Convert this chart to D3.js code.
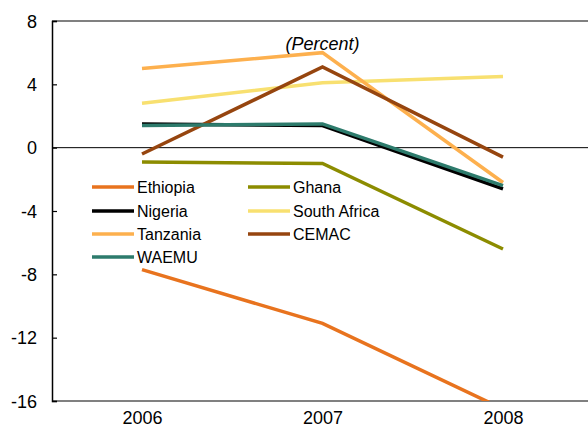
<!DOCTYPE html>
<html>
<head>
<meta charset="utf-8">
<script src="https://cdn.jsdelivr.net/npm/d3@7"></script>
<style>
  html, body { margin: 0; padding: 0; background: #fff; }
  svg { display: block; font-family: "Liberation Sans", Arial, sans-serif; }
</style>
</head>
<body>
<svg id="chart" width="588" height="428"></svg>
<script>
// Real GDP growth series, percent
const years = ["2006", "2007", "2008"];
const yTicks = [-16, -12, -8, -4, 0, 4, 8];

const ethiopia    = [-7.7, -11.1, -16.5];
const ghana       = [-0.9, -1.0, -6.4];
const nigeria     = [1.5, 1.4, -2.6];
const southAfrica = [2.8, 4.1, 4.5];
const tanzania    = [5.0, 6.0, -2.2];
const cemac       = [-0.4, 5.1, -0.6];
const waemu       = [1.4, 1.5, -2.4];

const seriesNames  = ["Ethiopia", "Ghana", "Nigeria", "South Africa", "Tanzania", "CEMAC", "WAEMU"];
const seriesValues = [ethiopia, ghana, nigeria, southAfrica, tanzania, cemac, waemu];
const seriesColors = ["#E8731E", "#8C8C00", "#000000", "#F8E070", "#FDB04E", "#96450F", "#2D7B6C"];

const svg = d3.select("#chart");
const plotLeft = 52, plotRight = 600, plotTop = 21, plotBottom = 401;

const x = d3.scalePoint().domain(years).range([142, 503]);
const y = d3.scaleLinear().domain([-16, 8]).range([plotBottom, plotTop]);

svg.append("defs").append("clipPath").attr("id", "plot")
  .append("rect").attr("x", plotLeft).attr("y", plotTop)
  .attr("width", plotRight - plotLeft).attr("height", plotBottom - plotTop);

// frame: grey top and bottom edges
svg.append("line").attr("x1", plotLeft).attr("x2", plotRight).attr("y1", plotTop).attr("y2", plotTop)
  .attr("stroke", "#808080").attr("stroke-width", 2);
svg.append("line").attr("x1", plotLeft).attr("x2", plotRight).attr("y1", plotBottom).attr("y2", plotBottom)
  .attr("stroke", "#808080").attr("stroke-width", 2);

// zero line
svg.append("line").attr("x1", plotLeft).attr("x2", plotRight).attr("y1", y(0)).attr("y2", y(0))
  .attr("stroke", "#000").attr("stroke-width", 1);

// y axis with inward ticks, plain hyphen for negatives
const yAxis = svg.append("g").attr("transform", `translate(${plotLeft},0)`)
  .call(d3.axisRight(y).tickValues(yTicks).tickSize(5).tickFormat(d => String(d)));
yAxis.select(".domain").attr("stroke", "#000").attr("stroke-width", 1.5);
yAxis.selectAll(".tick line").attr("stroke", "#000").attr("stroke-width", 1.2);
yAxis.selectAll(".tick text")
  .attr("x", -15).attr("text-anchor", "end").attr("dy", "0.35em")
  .attr("font-size", 18).attr("fill", "#000")
  .attr("font-family", "Liberation Sans, Arial, sans-serif");

// x axis labels
const xAxis = svg.append("g").attr("transform", `translate(0,${plotBottom})`)
  .call(d3.axisBottom(x).tickSize(0).tickPadding(10));
xAxis.select(".domain").remove();
xAxis.selectAll(".tick text")
  .attr("font-size", 18).attr("fill", "#000")
  .attr("font-family", "Liberation Sans, Arial, sans-serif");

// series lines
const line = d3.line().x((d, i) => x(years[i])).y(d => y(d));
const g = svg.append("g").attr("clip-path", "url(#plot)");
seriesValues.forEach((vals, k) => {
  g.append("path").datum(vals)
    .attr("d", line)
    .attr("fill", "none")
    .attr("stroke", seriesColors[k])
    .attr("stroke-width", 3.5)
    .attr("stroke-linejoin", "miter");
});

// unit label
svg.append("text").attr("x", x("2007")).attr("y", 50)
  .attr("text-anchor", "middle").attr("font-size", 18).attr("font-style", "italic")
  .text("(Percent)");

// legend
const legendCols = [92, 248];
const legendRows = [187, 211, 234, 257];
seriesNames.forEach((name, k) => {
  const cx = legendCols[k % 2];
  const cy = legendRows[Math.floor(k / 2)];
  const lg = svg.append("g");
  lg.append("line").attr("x1", cx).attr("x2", cx + 42).attr("y1", cy).attr("y2", cy)
    .attr("stroke", seriesColors[k]).attr("stroke-width", 3.5);
  lg.append("text").attr("x", cx + 45).attr("y", cy).attr("dy", "0.35em")
    .attr("font-size", 16).attr("fill", "#000").text(name);
});
</script>
</body>
</html>
